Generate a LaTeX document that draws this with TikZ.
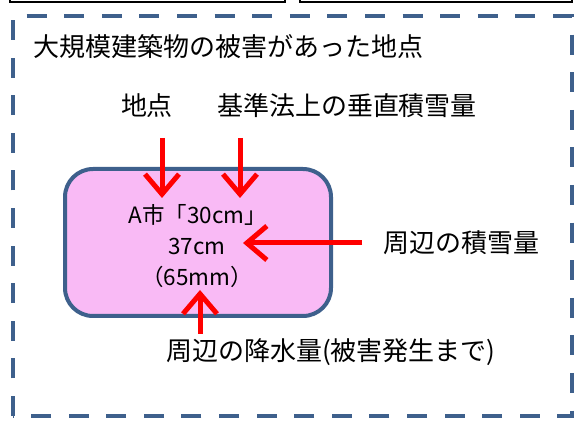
\documentclass[tikz,border=0pt]{standalone}
\usepackage{fontspec}
\setmainfont{Noto Sans CJK JP}
\usetikzlibrary{arrows.meta}
\definecolor{bordblue}{RGB}{62,96,140}
\definecolor{boxpink}{RGB}{249,186,245}
\begin{document}
\begin{tikzpicture}[x=1pt,y=-1pt,
  lbl/.style={inner sep=0pt, font=\fontsize{26}{30}\selectfont},
  intxt/.style={inner sep=0pt, font=\fontsize{22.5}{26}\selectfont},
  redarrow/.style={draw=red, line width=5pt, -{Straight Barb[length=20pt,width=34pt]}},
  topbox/.style={draw=black, line width=1.5pt},
  outerframe/.style={draw=bordblue, line width=4pt, dash pattern=on 20pt off 17.6pt},
  roundbox/.style={draw=bordblue, fill=boxpink, line width=4pt, rounded corners=28pt, minimum width=266pt, minimum height=147pt, inner sep=0pt}
]
\useasboundingbox (0,0) rectangle (574,422);
\clip (0,0) rectangle (574,422);
\draw[topbox] (10,-10) rectangle (285,2);
\draw[topbox] (300,-10) rectangle (572,2);
\draw[outerframe] (13,416) -- (13,16) -- (572,16) -- (572,416) -- cycle;

\node[roundbox] (box) at (198,242.5) {};
\node[intxt] (t1) at (198,215) {A市「30cm」};
\node[intxt] (t2) at (197,246) {37cm};
\node[intxt] (t3) at (197,277) {（65mm）};

\node[lbl, anchor=west] (title) at (33,47) {大規模建築物の被害があった地点};
\node[lbl] (lbl1) at (147,106) {地点};
\node[lbl] (lbl2) at (347,106) {基準法上の垂直積雪量};
\node[lbl] (lbl3) at (461,243) {周辺の積雪量};
\node[lbl] (lbl4) at (331,352) {周辺の降水量(被害発生まで)};

\coordinate (a1s) at (162,138);
\coordinate (a1e) at (162,198);
\coordinate (a2s) at (240,138);
\coordinate (a2e) at (240,198);
\coordinate (a3s) at (362,243);
\coordinate (a3e) at (243,243);
\coordinate (a4s) at (200,334);
\coordinate (a4e) at (200,290);
\draw[redarrow] (a1s) -- (a1e);
\draw[redarrow] (a2s) -- (a2e);
\draw[redarrow] (a3s) -- (a3e);
\draw[redarrow] (a4s) -- (a4e);
\end{tikzpicture}
\end{document}
